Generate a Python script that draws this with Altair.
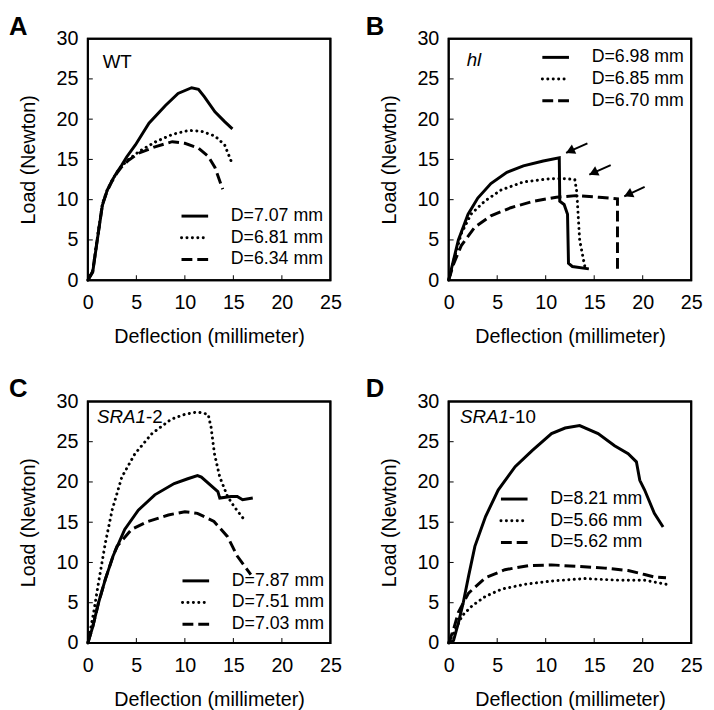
import altair as alt
import pandas as pd

# ---------------- data ----------------
x_ticks = [5, 10, 15, 20]
y_ticks = [5, 10, 15, 20, 25]
x_labels = [0, 5, 10, 15, 20, 25]
y_labels = [0, 5, 10, 15, 20, 25, 30]

# Panel A (WT)
a_solid_x = [0, 0.5, 1.0, 1.5, 2.0, 2.5, 3.0, 3.5, 4.0, 4.9, 6.3, 8.0, 9.3, 10.7, 11.4, 12.0, 13.1, 14.1, 14.9]
a_solid_y = [0, 1.0, 5.2, 9.3, 11.2, 12.4, 13.4, 14.3, 15.3, 16.8, 19.5, 21.7, 23.2, 23.9, 23.7, 22.8, 20.9, 19.7, 18.8]
a_dot_x = [0, 0.5, 1.0, 1.5, 2.0, 2.5, 3.0, 3.5, 4.2, 5.3, 7.0, 8.7, 10.4, 11.7, 13.1, 14.1, 14.9]
a_dot_y = [0, 1.2, 5.4, 9.5, 11.2, 12.4, 13.4, 14.2, 15.0, 16.0, 17.2, 18.1, 18.6, 18.5, 17.9, 16.8, 14.4]
a_dash_x = [0, 0.5, 1.0, 1.5, 2.0, 2.5, 3.0, 3.5, 4.2, 5.3, 7.0, 8.7, 10.0, 11.4, 12.4, 13.1, 13.9]
a_dash_y = [0, 1.1, 5.3, 9.4, 11.1, 12.3, 13.3, 14.1, 14.9, 15.8, 16.6, 17.2, 17.0, 16.4, 15.4, 14.0, 11.3]
a_names = ["D=7.07 mm", "D=6.81 mm", "D=6.34 mm"]

# Panel B (hl)
b_solid_x = [0, 1.0, 2.0, 3.0, 4.35, 6.0, 7.7, 9.75, 11.4, 11.45, 11.9, 12.25, 12.35, 12.75, 14.45]
b_solid_y = [0, 5.0, 8.2, 10.2, 12.0, 13.4, 14.2, 14.8, 15.2, 9.8, 9.4, 8.2, 2.1, 1.7, 1.4]
b_dot_x = [0, 0.6, 1.3, 2.3, 3.7, 5.4, 7.7, 10.4, 12.1, 13.0, 13.2, 13.5, 13.9, 14.05]
b_dot_y = [0, 2.8, 5.8, 8.2, 9.8, 11.2, 12.2, 12.6, 12.6, 12.5, 11.0, 5.0, 2.5, 1.6]
b_dash_x = [0, 0.5, 1.3, 2.7, 4.35, 6.4, 8.7, 11.1, 13.1, 15.5, 17.4, 17.4]
b_dash_y = [0, 2.0, 4.3, 6.6, 8.0, 9.0, 9.8, 10.3, 10.5, 10.3, 10.1, 0.9]
b_names = ["D=6.98 mm", "D=6.85 mm", "D=6.70 mm"]
b_arrow_tip_x = [12.1, 14.5, 18.1]
b_arrow_tip_y = [15.8, 13.1, 10.4]
b_arrow_tail_x = [14.3, 16.7, 20.2]
b_arrow_tail_y = [17.0, 14.3, 11.6]

# Panel C (SRA1-2)
c_solid_x = [0, 0.5, 1.1, 1.8, 2.6, 3.8, 5.2, 6.9, 8.9, 10.3, 11.3, 11.7, 13.4, 13.6, 14.75, 15.4, 15.95, 17.0]
c_solid_y = [0, 2.0, 5.0, 7.9, 10.8, 14.1, 16.5, 18.4, 19.8, 20.4, 20.8, 20.6, 18.8, 18.0, 18.2, 18.2, 17.8, 18.0]
c_dot_x = [0, 0.6, 1.1, 1.8, 2.5, 3.5, 4.85, 6.6, 8.6, 10.0, 11.3, 12.4, 12.7, 13.05, 13.6, 14.4, 15.1, 16.0]
c_dot_y = [0, 3.8, 7.5, 12.4, 16.5, 20.6, 23.5, 26.0, 27.8, 28.4, 28.7, 28.4, 26.8, 23.5, 20.6, 18.2, 16.9, 15.5]
c_dash_x = [0, 0.5, 1.1, 1.8, 2.6, 3.0, 4.5, 6.2, 8.3, 10.0, 11.3, 13.0, 14.4, 15.4, 16.8]
c_dash_y = [0, 2.0, 5.0, 7.9, 10.8, 12.0, 14.1, 15.1, 15.9, 16.3, 16.1, 15.1, 13.2, 10.8, 8.5]
c_names = ["D=7.87 mm", "D=7.51 mm", "D=7.03 mm"]

# Panel D (SRA1-10)
d_solid_x = [0, 0.5, 1.0, 1.5, 2.05, 2.7, 3.8, 5.1, 6.85, 8.6, 10.6, 12.0, 13.5, 15.4, 17.1, 18.5, 19.35, 19.7, 20.2, 21.2, 22.1]
d_solid_y = [0, 0.3, 2.5, 5.0, 8.3, 12.0, 15.7, 19.0, 21.9, 23.9, 26.0, 26.7, 27.0, 26.0, 24.5, 23.5, 22.5, 20.2, 19.0, 16.1, 14.4]
d_dot_x = [0, 0.7, 1.4, 2.4, 3.8, 5.5, 7.9, 10.6, 14.0, 17.5, 20.2, 22.4]
d_dot_y = [0, 1.7, 3.4, 4.6, 5.8, 6.7, 7.3, 7.7, 8.0, 7.8, 7.8, 7.3]
d_dash_x = [0, 0.5, 1.0, 2.05, 3.8, 5.8, 8.2, 10.6, 13.4, 16.1, 18.5, 20.2, 21.2, 22.4]
d_dash_y = [0, 1.7, 3.8, 6.2, 8.1, 9.1, 9.6, 9.7, 9.5, 9.3, 9.0, 8.5, 8.2, 8.1]
d_names = ["D=8.21 mm", "D=5.66 mm", "D=5.62 mm"]

# ---------------- styling ----------------
W, H = 246, 245
FONT = "Liberation Sans"
STYLES = [
    dict(strokeWidth=3, strokeCap="butt"),
    dict(strokeWidth=3, strokeCap="round", strokeDash=[0.1, 5.4]),
    dict(strokeWidth=3, strokeCap="butt", strokeDash=[11, 5]),
]

xscale = alt.Scale(domain=[0, 25], nice=False)
yscale = alt.Scale(domain=[0, 30], nice=False)
X_AX = alt.Axis(values=x_labels, title="Deflection (millimeter)")
Y_AX = alt.Axis(values=y_labels, title="Load (Newton)")


def X(field):
    return alt.X(field, scale=xscale, axis=X_AX)


def Y(field):
    return alt.Y(field, scale=yscale, axis=Y_AX)


def panel(series, names, letter, letter_dx, leg_x, leg_y, italic, regular, label_x, label_y,
          arrows=None):
    one = pd.DataFrame({"a": [0]})
    layers = []
    # plot frame
    layers.append(alt.Chart(one).mark_rect(
        filled=False, fillOpacity=0, stroke="black", strokeWidth=2).encode(
        x=alt.value(0), x2=alt.value(W), y=alt.value(0), y2=alt.value(H)))

    for k, (xs, ys) in enumerate(series):
        df = pd.DataFrame({"d": xs, "L": ys, "i": list(range(len(xs)))})
        layers.append(alt.Chart(df).mark_line(color="black", **STYLES[k]).encode(
            x=X("d:Q"), y=Y("L:Q"), order=alt.Order("i:Q")))

    # inward ticks
    layers.append(alt.Chart(pd.DataFrame({"d": x_ticks})).mark_rule(color="black", strokeWidth=1).encode(
        x=X("d:Q"), y=alt.value(H), y2=alt.value(H - 5)))
    layers.append(alt.Chart(pd.DataFrame({"L": y_ticks})).mark_rule(color="black", strokeWidth=1).encode(
        y=Y("L:Q"), x=alt.value(0), x2=alt.value(5)))

    # inline legend
    for k, name in enumerate(names):
        yy = leg_y + 22 * k
        layers.append(alt.Chart(one).mark_rule(color="black", **STYLES[k]).encode(
            x=alt.value(leg_x), x2=alt.value(leg_x + 27), y=alt.value(yy), y2=alt.value(yy)))
        layers.append(alt.Chart(one).mark_text(
            text=name, font=FONT, fontSize=18, align="left", baseline="middle", color="black").encode(
            x=alt.value(leg_x + 50), y=alt.value(yy)))

    # genotype label (italic part + regular part)
    if italic:
        layers.append(alt.Chart(one).mark_text(
            text=italic, font=FONT, fontSize=19, fontStyle="italic", align="right", baseline="middle",
            color="black").encode(x=alt.value(label_x), y=alt.value(label_y)))
    if regular:
        layers.append(alt.Chart(one).mark_text(
            text=regular, font=FONT, fontSize=19, align="left", baseline="middle",
            color="black").encode(x=alt.value(label_x), y=alt.value(label_y)))

    # panel letter
    layers.append(alt.Chart(one).mark_text(
        text=letter, font=FONT, fontSize=26, fontWeight="bold", align="left", baseline="alphabetic",
        color="black").encode(x=alt.value(letter_dx), y=alt.value(-4)))

    if arrows is not None:
        adf = pd.DataFrame({"d": arrows[0], "L": arrows[1], "d2": arrows[2], "L2": arrows[3]})
        layers.append(alt.Chart(adf).mark_rule(color="black", strokeWidth=2).encode(
            x=X("d:Q"), y=Y("L:Q"), x2="d2:Q", y2="L2:Q"))
        layers.append(alt.Chart(adf).mark_point(
            shape="triangle-up", filled=True, size=110, angle=245, color="black", opacity=1,
            xOffset=4, yOffset=-2).encode(x=X("d:Q"), y=Y("L:Q")))

    return alt.layer(*layers).properties(width=W, height=H)


pA = panel([(a_solid_x, a_solid_y), (a_dot_x, a_dot_y), (a_dash_x, a_dash_y)], a_names,
           "A", -80, 95, 180, "", "WT", 15, 24)
pB = panel([(b_solid_x, b_solid_y), (b_dot_x, b_dot_y), (b_dash_x, b_dash_y)], b_names,
           "B", -84, 95, 19, "hl", "", 33, 22,
           arrows=(b_arrow_tip_x, b_arrow_tip_y, b_arrow_tail_x, b_arrow_tail_y))
pC = panel([(c_solid_x, c_solid_y), (c_dot_x, c_dot_y), (c_dash_x, c_dash_y)], c_names,
           "C", -80, 96, 182, "SRA1", "-2", 59, 16)
pD = panel([(d_solid_x, d_solid_y), (d_dot_x, d_dot_y), (d_dash_x, d_dash_y)], d_names,
           "D", -84, 53, 99, "SRA1", "-10", 61, 16)

chart = alt.concat(pA, pB, pC, pD, columns=2, spacing={"row": 123, "column": 120},
                   bounds="flush").properties(
    padding={"left": 0, "top": 0, "right": 2, "bottom": 2}
).configure(font=FONT).configure_view(
    stroke="black", strokeWidth=2
).configure_axis(
    grid=False, domain=False, ticks=False,
    labelFont=FONT, labelFontSize=20, labelColor="black", labelPadding=10,
    titleFont=FONT, titleFontSize=20, titleFontWeight="normal", titleColor="black",
    labelFlush=False, labelOverlap=False,
).configure_axisX(titlePadding=14, labelPadding=13).configure_axisY(titlePadding=18)

chart.save("out.html", embed_options={"renderer": "svg", "actions": False})
